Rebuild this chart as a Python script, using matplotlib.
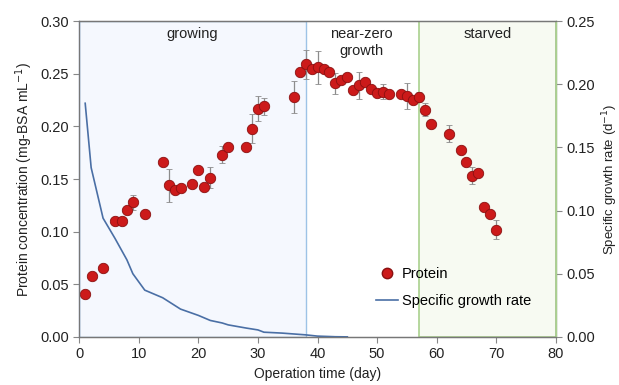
import matplotlib
matplotlib.use("Agg")
import matplotlib.pyplot as plt
from matplotlib.lines import Line2D

plt.rcParams['font.family'] = ['Liberation Sans', 'DejaVu Sans']

# protein concentration (mg-BSA/mL)
days = [1, 2.2, 4, 6, 7.2, 8, 9, 11, 14, 15, 16, 17, 19, 20, 21, 22, 24, 25, 28, 29, 30, 31,
        36, 37, 38, 39, 40, 41, 42, 43, 44, 45, 46, 47, 48, 49, 50, 51, 52, 54, 55, 56, 57,
        58, 59, 62, 64, 65, 66, 67, 68, 69, 70]
protein = [0.041, 0.058, 0.065, 0.110, 0.110, 0.121, 0.128, 0.117, 0.166, 0.144, 0.140, 0.141,
           0.145, 0.159, 0.142, 0.151, 0.173, 0.180, 0.180, 0.198, 0.217, 0.219,
           0.228, 0.252, 0.259, 0.255, 0.256, 0.255, 0.252, 0.241, 0.244, 0.247, 0.235, 0.239,
           0.242, 0.236, 0.232, 0.233, 0.231, 0.231, 0.229, 0.225, 0.228,
           0.216, 0.202, 0.193, 0.178, 0.166, 0.153, 0.156, 0.123, 0.117, 0.102]
protein_err = [0, 0, 0, 0, 0, 0, 0.007, 0, 0, 0.016, 0, 0, 0, 0, 0, 0.010, 0.008, 0, 0, 0.014,
               0.012, 0.008, 0.015, 0, 0.014, 0, 0.016, 0, 0, 0.010, 0, 0, 0, 0.013, 0, 0, 0,
               0.007, 0, 0, 0.012, 0, 0.005, 0.006, 0, 0.008, 0, 0, 0.008, 0, 0, 0, 0.009]

# specific growth rate (1/d)
gr_days = [1, 2, 4, 6, 8, 9, 11, 14, 17, 20, 22, 24, 25, 28, 30, 31, 34, 38, 40, 43, 45]
gr_rate = [0.185, 0.134, 0.094, 0.078, 0.061, 0.050, 0.037, 0.031, 0.022, 0.017, 0.013,
           0.011, 0.0095, 0.007, 0.0055, 0.0037, 0.003, 0.0016, 0.0006, 0.0001, 0.0]

phases = ["growing", "near-zero\ngrowth", "starved"]
phase_edges = [0, 38, 57, 80]
phase_label_x = [19, 47.3, 68.6]

fig, ax = plt.subplots(figsize=(6.19, 3.85), dpi=100)
fig.subplots_adjust(left=0.128, right=0.898, top=0.945, bottom=0.125)
ax2 = ax.twinx()

# phase boxes
ax.axvspan(phase_edges[0], phase_edges[1], facecolor="#f5f8fe", edgecolor="#9dc3e6", lw=1, zorder=0)
ax.axvspan(phase_edges[2], phase_edges[3], facecolor="#f7faf2", edgecolor="#a9d18e", lw=1.2, zorder=0)
for name, xc in zip(phases, phase_label_x):
    ax.text(xc, 0.294, name, ha="center", va="top", fontsize=10.5, color="#222222")

ax.errorbar(days, protein, yerr=protein_err, fmt="o", color="#cc1a1a", mec="#8a1010", mew=0.6,
            ms=7.5, ecolor="#8c8c8c", elinewidth=0.9, capsize=2.5, capthick=0.9, zorder=3)
ax2.plot(gr_days, gr_rate, color="#4a6fa5", lw=1.2)

ax.set_xlim(0, 80)
ax.set_ylim(0, 0.30)
ax2.set_ylim(0, 0.25)
ax.set_xticks(range(0, 81, 10))
ax.set_yticks([0, 0.05, 0.10, 0.15, 0.20, 0.25, 0.30])
ax.set_yticklabels(["0.00", "0.05", "0.10", "0.15", "0.20", "0.25", "0.30"])
ax2.set_yticks([0, 0.05, 0.10, 0.15, 0.20, 0.25])
ax2.set_yticklabels(["0.00", "0.05", "0.10", "0.15", "0.20", "0.25"])

for a in (ax, ax2):
    a.tick_params(labelsize=10.5, color="#888888", length=4, width=0.8, labelcolor="#222222")
    for s in a.spines.values():
        s.set_color("#777777")
        s.set_linewidth(0.9)
ax.spines["left"].set_color("#6f8fc0")
ax2.spines["right"].set_color("#a9d18e")

ax.set_xlabel("Operation time (day)", fontsize=10, color="#222222")
ax.set_ylabel("Protein concentration (mg-BSA mL$^{-1}$)", fontsize=10, color="#222222")
ax2.set_ylabel("Specific growth rate (d$^{-1}$)", fontsize=9.5, color="#222222",
               rotation=90, labelpad=4)

handles = [Line2D([], [], marker="o", ls="none", color="#cc1a1a", mec="#8a1010", ms=7.5),
           Line2D([], [], color="#4a6fa5", lw=1.2)]
ax2.legend(handles, ["Protein", "Specific growth rate"], frameon=False, fontsize=10.5,
           loc="lower left", bbox_to_anchor=(0.595, 0.05), handlelength=1.5,
           handletextpad=0.3, labelspacing=0.9)

fig.savefig("out.png", dpi=100)
